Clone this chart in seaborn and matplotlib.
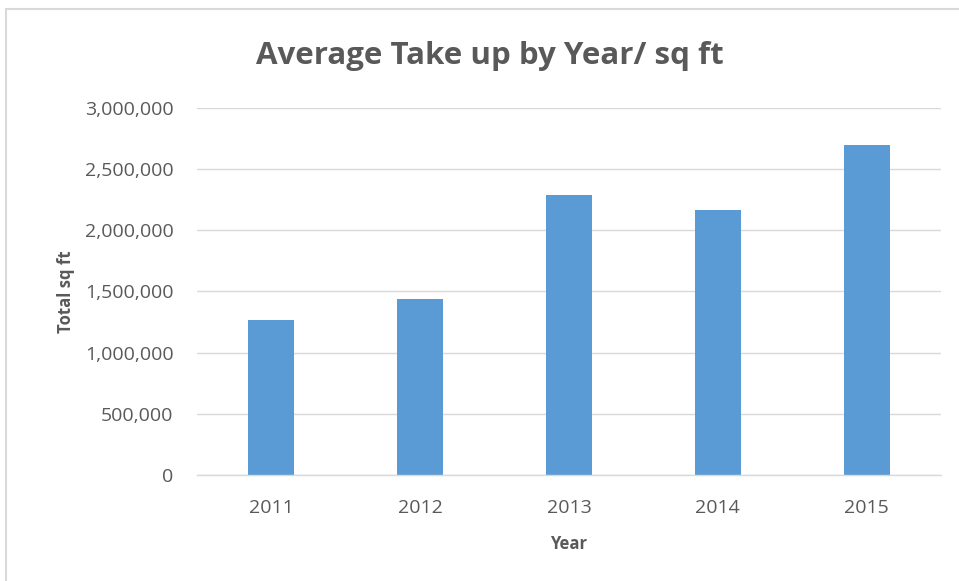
import matplotlib
matplotlib.use("Agg")
import matplotlib.pyplot as plt
import seaborn as sns
import pandas as pd
from matplotlib.ticker import FuncFormatter
from matplotlib.lines import Line2D

years = ["2011", "2012", "2013", "2014", "2015"]
values = [1270000, 1440000, 2290000, 2165000, 2700000]
title = "Average Take up by Year/ sq ft"
xlabel = "Year"
ylabel = "Total sq ft"

df = pd.DataFrame({"Year": years, "Total": values})

sns.set_theme(style="white")
plt.rcParams['font.family'] = ['Open Sans', 'DejaVu Sans']

fig = plt.figure(figsize=(9.59, 5.81), dpi=100)
ax = fig.add_axes([197/959, 1 - 475/581, (941-197)/959, (475-108)/581])

sns.barplot(data=df, x="Year", y="Total", color="#5B9BD5", width=0.31,
            saturation=1, ax=ax, edgecolor="none")

ax.set_ylim(0, 3000000)
ax.set_yticks(range(0, 3000001, 500000))
ax.yaxis.set_major_formatter(FuncFormatter(lambda v, p: f"{int(v):,}"))
ax.grid(axis="y", color="#D9D9D9", linewidth=1)
ax.set_axisbelow(True)
for s in ["top", "right", "left"]:
    ax.spines[s].set_visible(False)
ax.spines["bottom"].set_color("#D9D9D9")
ax.spines["bottom"].set_linewidth(1)
ax.tick_params(axis="both", length=0, labelsize=14, labelcolor="#595959")
ax.tick_params(axis="y", pad=17)
ax.tick_params(axis="x", pad=17)

ax.set_xlabel(xlabel, fontsize=12, fontweight="bold", color="#595959", labelpad=13)
ax.set_ylabel(ylabel, fontsize=12, fontweight="bold", color="#595959", labelpad=7)

fig.text(490/959, 1 - 56/581, title, ha="center", va="center",
         fontsize=22.5, fontweight="bold", color="#595959")

fig.add_artist(Line2D([5.5/959, 5.5/959], [0, 1 - 9/581], transform=fig.transFigure,
                      color="#D9D9D9", linewidth=1.5))
fig.add_artist(Line2D([5.5/959, 1], [1 - 9/581, 1 - 9/581], transform=fig.transFigure,
                      color="#D9D9D9", linewidth=1.5))

fig.savefig("out.png", dpi=100)
